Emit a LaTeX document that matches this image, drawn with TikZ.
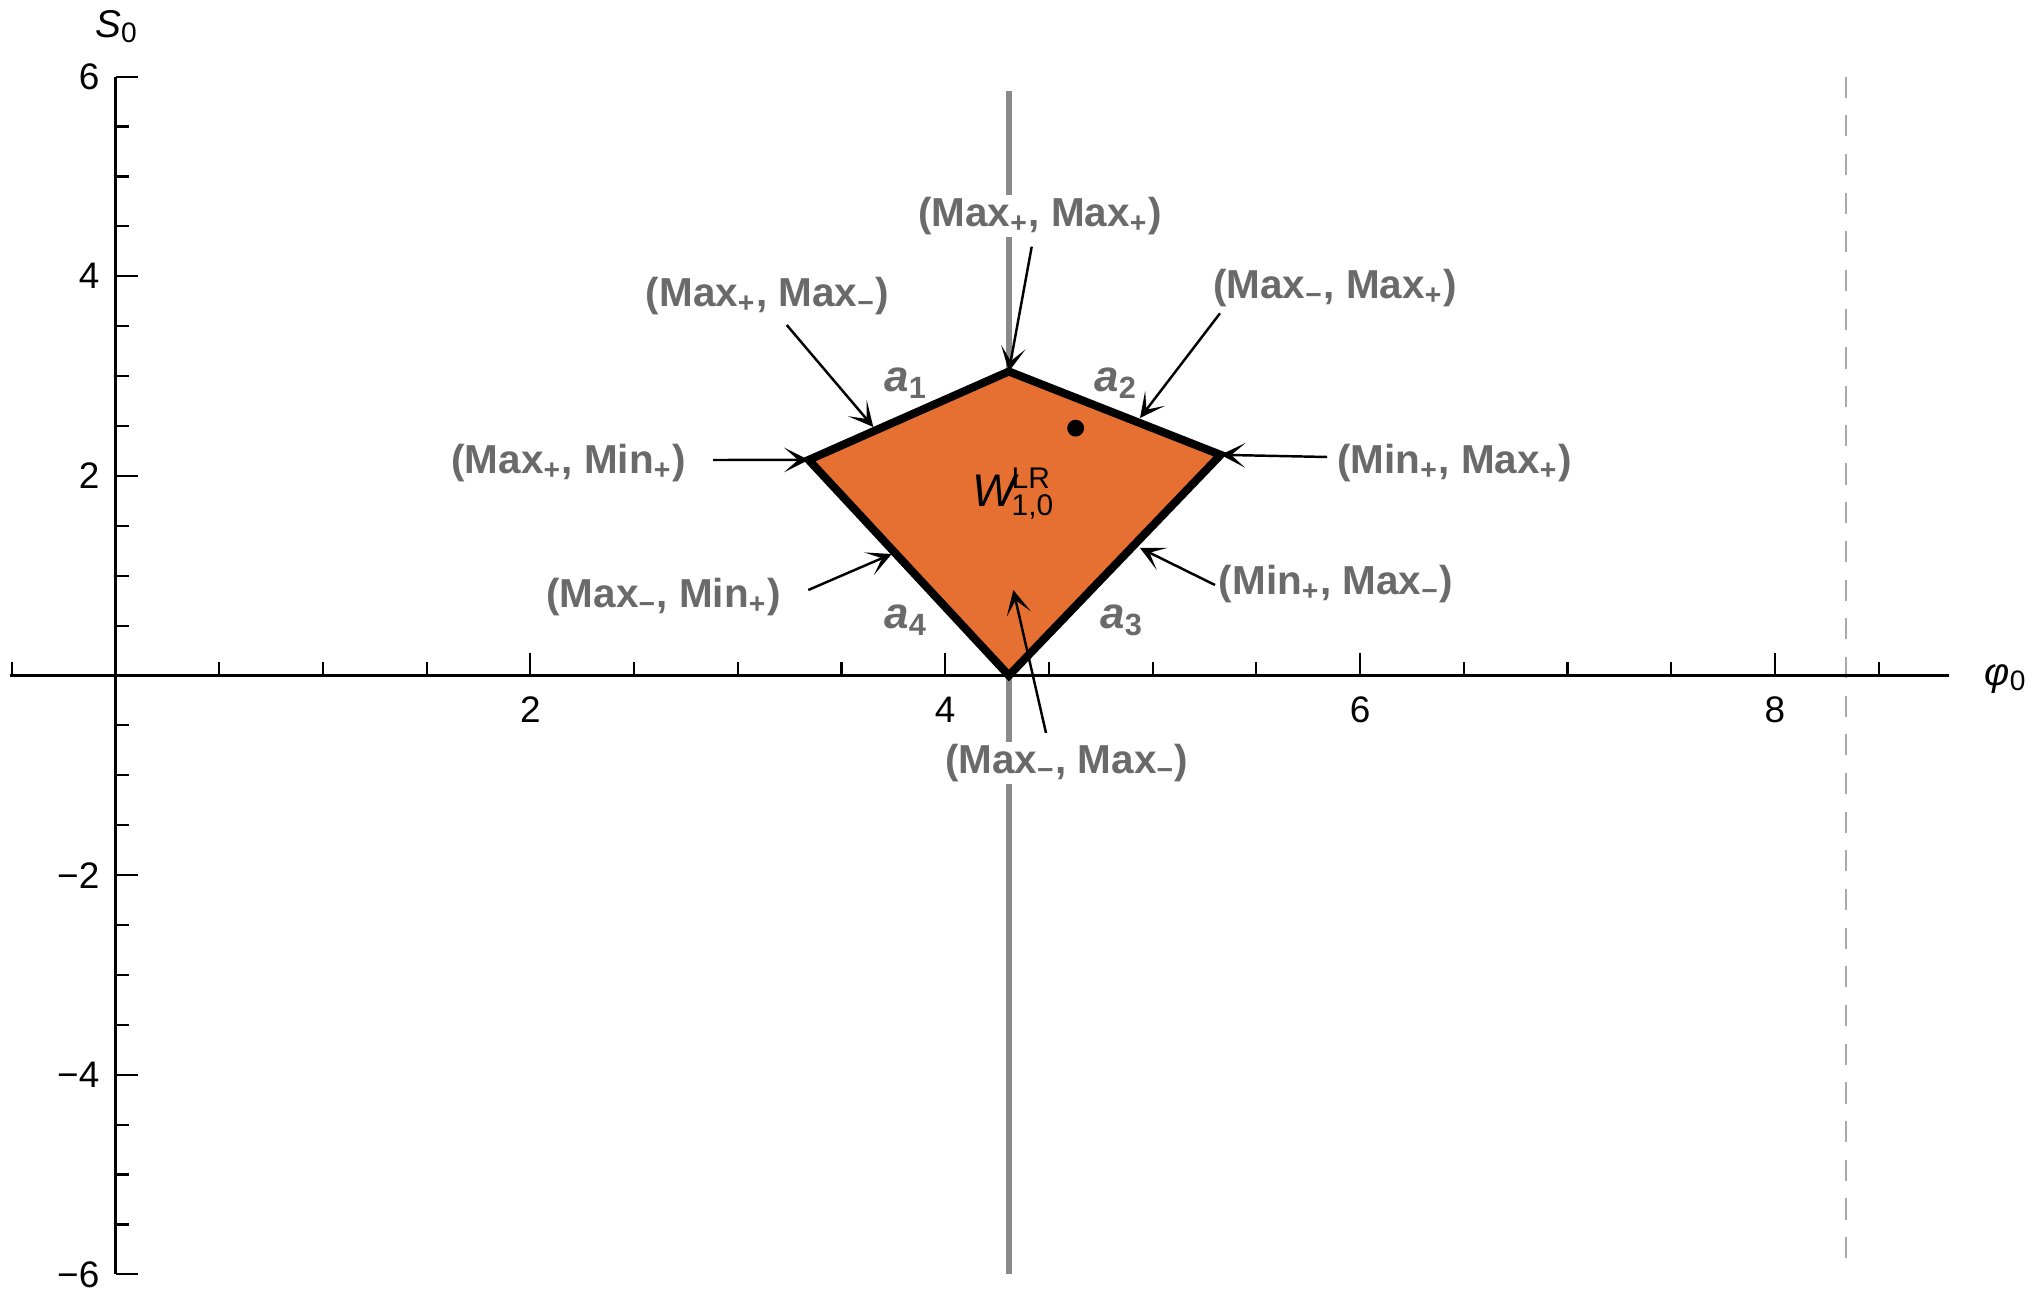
\documentclass[tikz,border=0pt]{standalone}
\usepackage{fontspec}
\setmainfont{Liberation Sans}
\usetikzlibrary{arrows.meta}
\definecolor{fillor}{HTML}{E67032}
\definecolor{lblgray}{HTML}{6A6A6A}
\definecolor{vgray}{HTML}{8A8A8A}
\definecolor{dgray}{HTML}{AAAAAA}
\begin{document}
\begin{tikzpicture}[x=0.01cm,y=-0.01cm,
  axis/.style={line width=0.6pt, black},
  lbl/.style={font=\fontsize{11.5}{13}\selectfont\bfseries, text=lblgray, fill=white, inner sep=0.5pt},
  ptr/.style={line width=0.7pt, black, -{Stealth[length=7pt,width=7pt,inset=4pt]}},
  edgelbl/.style={font=\fontsize{12.5}{13}\selectfont\bfseries, text=lblgray, inner sep=0pt},
  ticklbl/.style={font=\fontsize{10.5}{12}\selectfont, inner sep=0pt}
]
\useasboundingbox (0,0) rectangle (2040,1289);
\begin{scope}[shift={(115.5,675.5)}, x=2.073cm, y=0.9975cm]
  \coordinate (T) at (4.307,3.046);
  \coordinate (L) at (3.342,2.160);
  \coordinate (R) at (5.328,2.211);
  \coordinate (B) at (4.307,0);
  % dashed asymptote
  \draw[dgray, line width=0.5pt, dash pattern=on 6pt off 5pt] (8.343,6) -- (8.343,-6);
  % gray vertical line
  \draw[vgray, line width=1.8pt] (4.307,5.86) -- (4.307,-6);
  % region
  \fill[fillor] (T) -- (R) -- (B) -- (L) -- cycle;
  % axes
  \draw[axis] (-0.51,0) -- (8.84,0);
  \draw[axis] (0,-6) -- (0,6);
  \foreach \i in {-1,...,17} {\draw[axis] (\i*0.5,0) -- ++(0pt,3.7pt);}
  \foreach \v in {0,2,4,6,8} {\draw[axis] (\v,0) -- ++(0pt,6.3pt);}
  \foreach \i in {-12,...,12} {\draw[axis] (0,\i*0.5) -- ++(3.9pt,0pt);}
  \foreach \v in {-6,-4,...,6} {\draw[axis] (0,\v) -- ++(6.5pt,0pt);}
  \foreach \v in {2,4,6,8} {\node[ticklbl, anchor=north, yshift=-5.8pt] (xl\v) at (\v,0) {\v};}
  \foreach \v/\t in {6/6,4/4,2/2,-2/−2,-4/−4,-6/−6} {\node[ticklbl, anchor=east, xshift=-4.4pt] (yl\v) at (0,\v) {\t};}
  % outline
  \draw[line width=2.3pt, line join=miter] (T) -- (R) -- (B) -- (L) -- cycle;
  % dot
  \fill (4.629,2.478) circle[radius=2.4pt];
\end{scope}
% axis labels
\node[ticklbl] (S0) at (116,27) {\fontsize{11}{12}\selectfont\itshape S\upshape\raisebox{-1.4pt}{\fontsize{8}{9}\selectfont 0}};
\node[ticklbl] (phi0) at (2005,679) {\fontsize{11}{12}\selectfont\itshape φ\upshape\raisebox{-1.4pt}{\fontsize{8}{9}\selectfont 0}};
% region label
\node[anchor=base west, inner sep=0pt] (W) at (972,507) {\fontsize{13}{14}\selectfont\itshape W\upshape\kern-1.2pt\rlap{\raisebox{5.2pt}{\fontsize{8.5}{9}\selectfont LR}}\raisebox{-2.5pt}{\fontsize{8.5}{9}\selectfont 1,0}};
% edge labels
\node[edgelbl] (a1) at (906,383) {\itshape a\upshape\textsubscript{1}};
\node[edgelbl] (a2) at (1116,383) {\itshape a\upshape\textsubscript{2}};
\node[edgelbl] (a3) at (1122,620) {\itshape a\upshape\textsubscript{3}};
\node[edgelbl] (a4) at (906,620) {\itshape a\upshape\textsubscript{4}};
% point labels
\node[lbl] (mpp) at (1040,216) {(Max\textsubscript{+}, Max\textsubscript{+})};
\node[lbl] (mpm) at (767.5,296) {(Max\textsubscript{+}, Max\textsubscript{−})};
\node[lbl] (mmp) at (1335,288) {(Max\textsubscript{−}, Max\textsubscript{+})};
\node[lbl] (mpn) at (568.5,463) {(Max\textsubscript{+}, Min\textsubscript{+})};
\node[lbl] (npp) at (1454.5,463) {(Min\textsubscript{+}, Max\textsubscript{+})};
\node[lbl] (mmn) at (663.5,597) {(Max\textsubscript{−}, Min\textsubscript{+})};
\node[lbl] (npm) at (1336,584) {(Min\textsubscript{+}, Max\textsubscript{−})};
\node[lbl] (mmm) at (1066.7,763) {(Max\textsubscript{−}, Max\textsubscript{−})};
% arrow ends
\coordinate (s1) at (1031.7,246.7);
\coordinate (s2) at (786.7,325);   \coordinate (t2) at (873.3,427);
\coordinate (s3) at (1220,313.3);  \coordinate (t3) at (1140,418);
\coordinate (s4) at (713,460);
\coordinate (s5) at (1327,457);
\coordinate (s6) at (808.3,590);   \coordinate (t6) at (891.7,554);
\coordinate (s7) at (1215,585);    \coordinate (t7) at (1140,548);
\coordinate (s8) at (1046,733);    \coordinate (t8) at (1013.3,590);
\draw[ptr] (s1) -- (T);
\draw[ptr] (s2) -- (t2);
\draw[ptr] (s3) -- (t3);
\draw[ptr] (s4) -- (L);
\draw[ptr] (s5) -- (R);
\draw[ptr] (s6) -- (t6);
\draw[ptr] (s7) -- (t7);
\draw[ptr] (s8) -- (t8);
\end{tikzpicture}
\end{document}
